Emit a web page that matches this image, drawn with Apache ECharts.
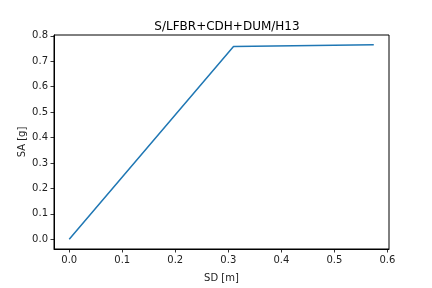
<!DOCTYPE html>
<html><head><meta charset="utf-8">
<script src="https://cdn.jsdelivr.net/npm/echarts@6/dist/echarts.min.js"></script>
<style>html,body{margin:0;padding:0;background:#fff}#c{width:432px;height:288px}</style>
</head><body><div id="c"></div>
<script>
const titleText = "S/LFBR+CDH+DUM/H13";
const xName = "SD [m]";
const yName = "SA [g]";
const sdValues = [0.0, 0.3098, 0.5743];
const saValues = [0.0, 0.7576, 0.7650];
const xTicks = [0.0, 0.1, 0.2, 0.3, 0.4, 0.5, 0.6];
const yTicks = [0.0, 0.1, 0.2, 0.3, 0.4, 0.5, 0.6, 0.7, 0.8];

function pad(arr){const lo=Math.min(...arr),hi=Math.max(...arr),m=(hi-lo)*0.05;return [lo-m,hi+m];}
const xr = pad(sdValues), yr = pad(saValues);
const font = "DejaVu Sans";
const chart = echarts.init(document.getElementById('c'), null, {renderer:'canvas'});
const axisCommon = {
  axisLine:{show:true,onZero:false,lineStyle:{color:'#000',width:1}},
  axisTick:{show:true,inside:false,length:3.5,lineStyle:{color:'#000',width:0.8}},
  splitLine:{show:false},
  nameTextStyle:{color:'#222',fontFamily:font,fontSize:10},
};
chart.setOption({
  animation:false,
  backgroundColor:'#fff',
  title:{text:titleText,left:222,top:16,textAlign:'center',
    textStyle:{fontFamily:font,fontSize:12,fontWeight:'normal',color:'#000'}},
  grid:{left:54,right:43,top:35,bottom:36,show:true,borderColor:'#000',borderWidth:1,backgroundColor:'transparent'},
  xAxis:Object.assign({},axisCommon,{type:'value',min:xr[0],max:xr[1],name:xName,nameLocation:'middle',nameGap:24,
    nameMoveOverlap:false,
    axisTick:Object.assign({},axisCommon.axisTick,{customValues:xTicks}),
    axisLabel:{customValues:xTicks,margin:6,color:'#222',fontFamily:font,fontSize:10,formatter:v=>v.toFixed(1)}}),
  yAxis:Object.assign({},axisCommon,{type:'value',min:yr[0],max:yr[1],name:yName,nameLocation:'middle',nameGap:27,
    nameMoveOverlap:false,
    axisTick:Object.assign({},axisCommon.axisTick,{customValues:yTicks}),
    axisLabel:{customValues:yTicks,margin:6,color:'#222',fontFamily:font,fontSize:10,formatter:v=>v.toFixed(1)}}),
  series:[{type:'line',data:sdValues.map((x,i)=>[x,saValues[i]]),showSymbol:false,symbol:'none',
    lineStyle:{color:'#1f77b4',width:1.5},clip:false}]
});
</script></body></html>
